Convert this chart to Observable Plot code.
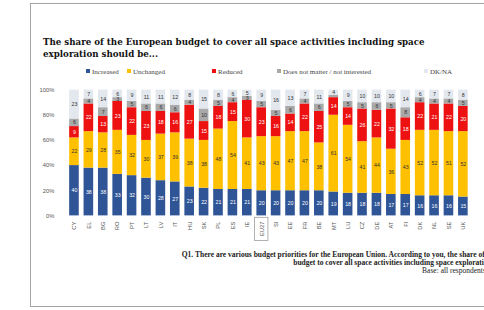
<!DOCTYPE html>
<html><head><meta charset="utf-8">
<script src="https://cdn.jsdelivr.net/npm/d3@7"></script>
<script src="https://cdn.jsdelivr.net/npm/@observablehq/plot@0.6"></script>
<style>
html,body{margin:0;padding:0;background:#fff;}
body{width:484px;height:310px;overflow:hidden;position:relative;font-family:"Liberation Serif",serif;}
#frame{position:absolute;left:30px;top:3px;width:640px;height:302px;border:1px solid #a4a4a4;}
#title{position:absolute;left:43px;top:37px;width:430px;font-family:"DejaVu Serif",serif;font-weight:bold;font-size:8.7px;line-height:11.5px;color:#111;}
.leg{position:absolute;top:68px;font-size:7px;color:#444;white-space:nowrap;line-height:8px;}
.leg i{display:inline-block;width:4px;height:4px;margin-right:2px;vertical-align:1px;}
#chart{position:absolute;left:0;top:80px;}
#cap{position:absolute;left:0;top:251px;width:530px;text-align:right;font-size:7.5px;line-height:7.8px;color:#222;white-space:nowrap;}
</style></head>
<body>
<div id="frame"></div>
<div id="title">The share of the European budget to cover all space activities including space exploration should be...</div>
<div id="legend"></div>
<div id="chart"></div>
<div id="cap"><b>Q1. There are various budget priorities for the European Union. According to you, the share of the European</b><br><b>budget to cover all space activities including space exploration should be...</b><br>Base: all respondents, % by country</div>
<script>
const countries = ["CY","EL","BG","RO","PT","LT","LV","IT","HU","SK","PL","ES","IE","EU27","SI","EE","FR","BE","MT","LU","CZ","DE","AT","FI","DK","NL","SE","UK"];
const increased = [40,38,38,33,32,30,28,27,23,22,21,21,21,20,20,20,20,20,19,18,18,18,17,17,16,16,16,15];
const unchanged = [22,29,28,35,32,30,37,39,38,38,48,54,41,43,43,47,47,38,61,54,41,44,36,43,52,52,51,52];
const reduced   = [9,22,13,23,22,23,18,16,27,15,18,15,30,23,16,14,22,25,14,14,26,22,32,18,22,21,22,20];
const notMatter = [6,4,7,3,5,6,6,6,4,10,5,4,3,5,5,6,4,6,2,5,5,6,5,8,4,4,4,5];
const dkna      = [23,7,14,6,9,11,11,12,8,15,8,6,5,9,16,13,7,11,4,9,10,10,10,14,6,7,7,8];
const series = ["Increased","Unchanged","Reduced","Does not matter / not interested","DK/NA"];
const colors = ["#2f5597","#ffc000","#ee1111","#a9a9a9","#e3e8ef"];
const yTicks = [0,20,40,60,80,100];
const highlight = "EU27";

const values = [increased, unchanged, reduced, notMatter, dkna];
const rows = [];
countries.forEach((c,i)=>series.forEach((s,j)=>rows.push({country:c, series:s, value:values[j][i]})));
const whiteText = new Set(["Increased","Reduced"]);

// legend
const legX = [86,127,212,277,424];
const leg = document.getElementById("legend");
series.forEach((s,j)=>{
  const d = document.createElement("div");
  d.className="leg"; d.style.left = legX[j]+"px";
  d.innerHTML = `<i style="background:${colors[j]}"></i>${s}`;
  leg.appendChild(d);
});

const stackOpts = {x:"country", y:"value", z:"series", order: series};
const chart = Plot.plot({
  width: 504, height: 171,
  marginLeft: 60, marginRight: 5, marginTop: 10, marginBottom: 30,
  style: {fontFamily: "Liberation Sans, sans-serif", fontSize: "6px", color: "#555", background: "transparent"},
  x: {domain: countries, padding: 0.32, label: null, tickRotate: -90, tickSize: 0, tickPadding: 6},
  y: {domain: [0,100], ticks: yTicks, tickFormat: d => d + "%", label: null, tickSize: 0, tickPadding: 4},
  color: {domain: series, range: colors},
  marks: [
    Plot.barY(rows, Plot.stackY({...stackOpts, fill: "series"})),
    Plot.text(rows, Plot.stackY({...stackOpts, text: d => whiteText.has(d.series) && d.value >= 3 ? String(d.value) : "", fill: "white", fontSize: 5.5})),
    Plot.text(rows, Plot.stackY({...stackOpts, text: d => !whiteText.has(d.series) && d.value >= 3 ? String(d.value) : "", fill: "#333", fontSize: 5.5})),
    Plot.barY([{country: highlight}], {x: "country", y1: -1.5, y2: -20, fill: "none", stroke: "#999", strokeWidth: 0.8, insetLeft: -2, insetRight: -2, clip: false})
  ]
});
document.getElementById("chart").appendChild(chart);
</script>
</body></html>
